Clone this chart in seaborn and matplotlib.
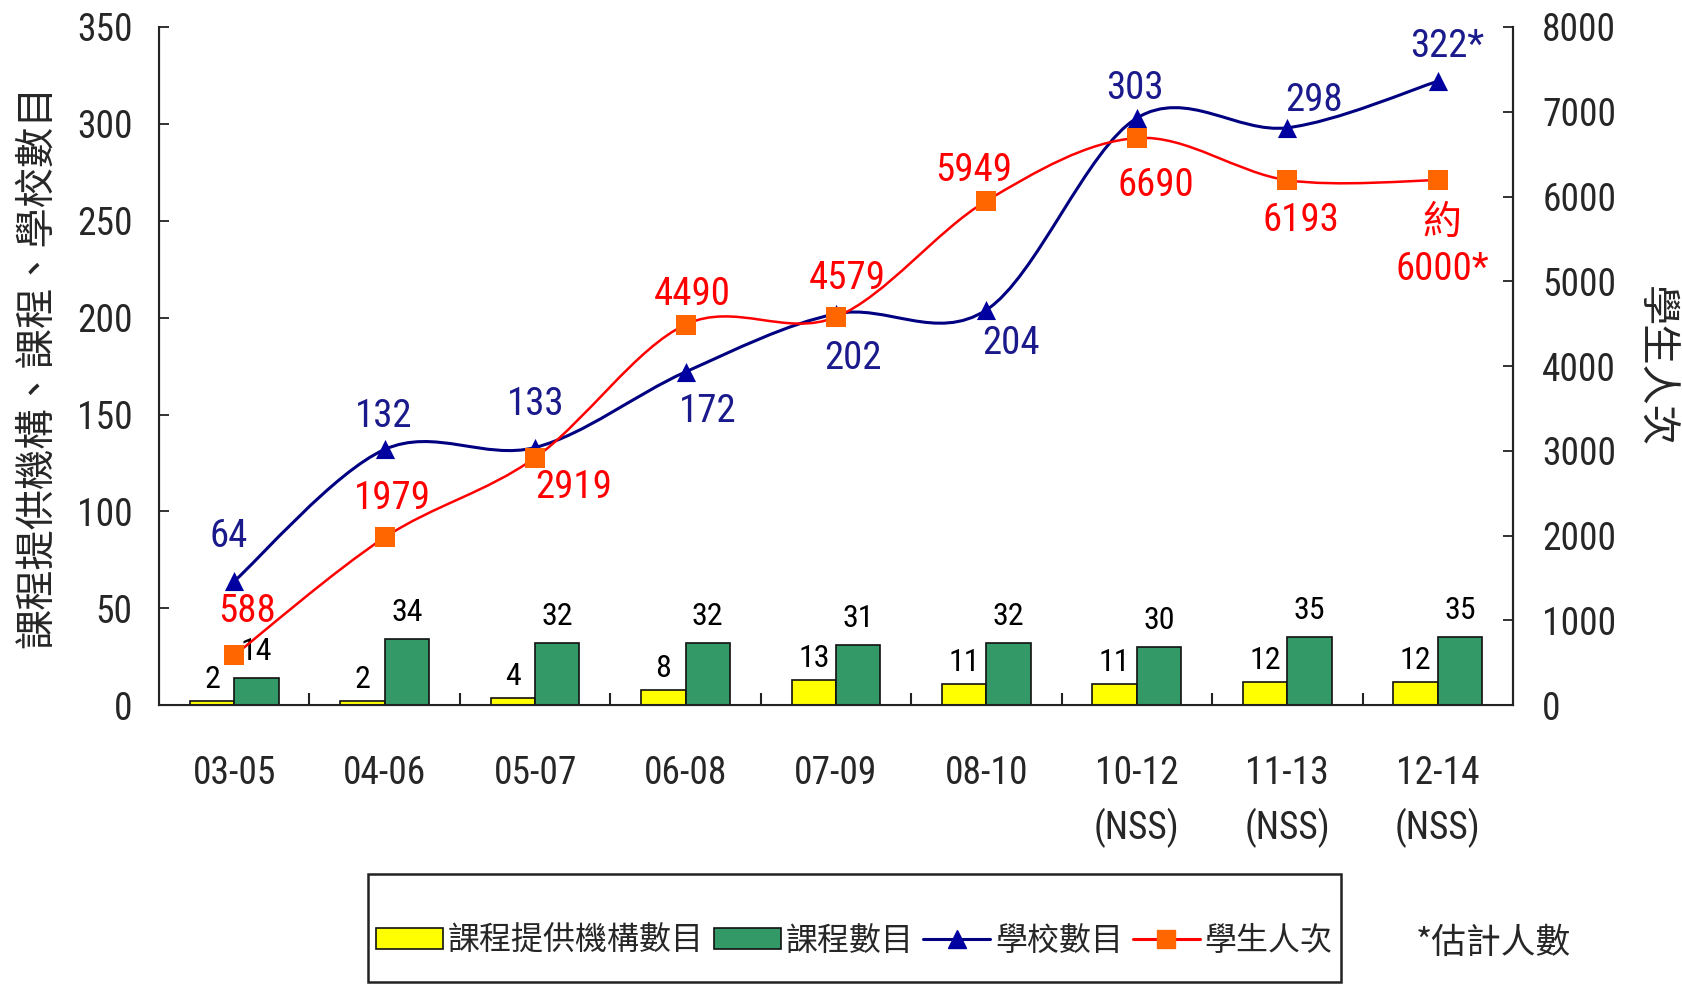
import numpy as np
import pandas as pd
import matplotlib
matplotlib.use("Agg")
import matplotlib.pyplot as plt
import seaborn as sns
from matplotlib import font_manager
from matplotlib.path import Path
from matplotlib.patches import PathPatch, Rectangle, Patch
from matplotlib.lines import Line2D

# ---------------- data ----------------
categories = ["03-05", "04-06", "05-07", "06-08", "07-09", "08-10",
              "10-12\n(NSS)", "11-13\n(NSS)", "12-14\n(NSS)"]
providers = [2, 2, 4, 8, 13, 11, 11, 12, 12]
courses = [14, 34, 32, 32, 31, 32, 30, 35, 35]
schools = [64, 132, 133, 172, 202, 204, 303, 298, 322]
students = [588, 1979, 2919, 4490, 4579, 5949, 6690, 6193, 6193]
school_labels = ["64", "132", "133", "172", "202", "204", "303", "298", "322*"]
student_labels = ["588", "1979", "2919", "4490", "4579", "5949", "6690", "6193", "約\n6000*"]
series_names = ["課程提供機構數目", "課程數目", "學校數目", "學生人次"]
left_ticks = [0, 50, 100, 150, 200, 250, 300, 350]
right_ticks = [0, 1000, 2000, 3000, 4000, 5000, 6000, 7000, 8000]

# label offsets (points) -- styling only
K = 0.772
school_off = [(-5, 42), (-1, 31), (1, 40), (21, -37), (16, -42), (23, -31), (-2, 28), (25, 25), (9, 32)]
student_off = [(12, 41), (7, 36), (36, -28), (6, 28), (11, 36), (-12, 28), (18, -44), (13, -38), (4, -62)]

YELLOW = "#FFFF00"
GREEN = "#339966"
NAVY = "#000080"
BLUE_MK = "#0000A0"
RED = "#FF0000"
ORANGE = "#FF6600"
BLUE_TXT = "#1a1a8c"

sns.set_style("ticks")

# choose a narrow sans font if one is installed
names = {f.name for f in font_manager.fontManager.ttflist}
stretch = "normal"
narrow = None
for cand in ["Liberation Sans Narrow", "Arial Narrow", "Roboto Condensed",
             "Open Sans Condensed", "Noto Sans Condensed"]:
    if cand in names:
        narrow = cand
        break
if narrow is None:
    cond = [f for f in font_manager.fontManager.ttflist
            if f.name == "DejaVu Sans" and str(f.stretch) in ("condensed", "semi-condensed")]
    if cond:
        narrow = "DejaVu Sans"
        stretch = "condensed"
NUM = ([narrow] if narrow else []) + ["Noto Sans CJK TC", "DejaVu Sans"]
CJK = ["Noto Sans CJK TC", "DejaVu Sans"]
plt.rcParams["font.family"] = NUM
plt.rcParams["font.stretch"] = stretch
num_size = 27 if narrow else 26

fig = plt.figure(figsize=(16.82, 9.85), dpi=100)
ax = fig.add_axes([0.0945, 0.284, 0.805, 0.6886])

df = pd.DataFrame({
    "cat": categories * 2,
    "series": [series_names[0]] * len(categories) + [series_names[1]] * len(categories),
    "value": providers + courses,
})
sns.barplot(data=df, x="cat", y="value", hue="series",
            palette=[YELLOW, GREEN], saturation=1, width=0.59, gap=0,
            edgecolor="#111111", linewidth=1.2, ax=ax, legend=False)

pads = [5, 9]
for cont, p in zip(ax.containers, pads):
    ax.bar_label(cont, padding=p, fontsize=num_size - 4, color="black")

ax.set_xlim(-0.5, len(categories) - 0.5)
ax.set_ylim(0, 350)
ax.set_yticks(left_ticks)
ax.set_xticks(range(len(categories)))
ax.set_xticklabels(categories, fontsize=num_size, linespacing=1.5)
ax.set_xticks(np.arange(0.5, len(categories) - 0.5, 1.0), minor=True)
ax.tick_params(axis="x", which="major", length=0, pad=36)
ax.tick_params(axis="x", which="minor", direction="in", length=9, width=1.5, color="#222222")
ax.tick_params(axis="y", direction="in", length=7, width=1.3, pad=19, labelsize=num_size, color="#222222")
ax.set_xlabel("")
ax.set_ylabel("課程提供機構、課程、學校數目", family=CJK, fontsize=29, fontweight="light")
ax.yaxis.set_label_coords(-0.075, 0.5)
for s in ["left", "bottom", "right"]:
    ax.spines[s].set_linewidth(1.5)
    ax.spines[s].set_color("#222222")
ax.spines["top"].set_visible(False)

ax2 = ax.twinx()
ax2.set_ylim(0, 8000)
ax2.set_yticks(right_ticks)
ax2.tick_params(axis="y", direction="in", length=7, width=1.3, pad=21, labelsize=num_size, color="#222222")
ax2.spines["top"].set_visible(False)
ax2.spines["right"].set_linewidth(1.5)
ax2.spines["right"].set_color("#222222")
ax2.set_ylabel("學生人次", family=CJK, fontsize=29, fontweight="light", rotation=270)
ax2.yaxis.set_label_coords(1.12, 0.5)


def smooth_path(xs, ys):
    pts = np.column_stack([xs, ys]).astype(float)
    n = len(pts)
    verts = [pts[0]]
    codes = [Path.MOVETO]
    for i in range(n - 1):
        p0 = pts[i - 1] if i > 0 else pts[i]
        p1 = pts[i]
        p2 = pts[i + 1]
        p3 = pts[i + 2] if i + 2 < n else pts[i + 1]
        c1 = p1 + (p2 - p0) / 6.0
        c2 = p2 - (p3 - p1) / 6.0
        verts += [c1, c2, p2]
        codes += [Path.CURVE4] * 3
    return Path(verts, codes)


xs = np.arange(len(categories))
ax.add_patch(PathPatch(smooth_path(xs, schools), facecolor="none", edgecolor=NAVY, lw=2.2, zorder=4))
sns.scatterplot(x=xs, y=schools, marker="^", s=190, color=BLUE_MK, edgecolor=BLUE_MK,
                linewidth=0, ax=ax, zorder=5, legend=False)
ax2.add_patch(PathPatch(smooth_path(xs, students), facecolor="none", edgecolor=RED, lw=1.8, zorder=4))
sns.scatterplot(x=xs, y=students, marker="s", s=210, color=ORANGE, edgecolor=ORANGE,
                linewidth=0, ax=ax2, zorder=5, legend=False)

for i, (v, lab) in enumerate(zip(schools, school_labels)):
    dx, dy = school_off[i]
    ax.annotate(lab, (i, v), xytext=(dx * K, dy * K), textcoords="offset points",
                ha="center", va="center", fontsize=num_size + 1, color=BLUE_TXT, zorder=6)
for i, (v, lab) in enumerate(zip(students, student_labels)):
    dx, dy = student_off[i]
    ax2.annotate(lab, (i, v), xytext=(dx * K, dy * K), textcoords="offset points",
                 ha="center", va="center", fontsize=num_size + 1, color=RED, zorder=6,
                 linespacing=1.3, family=NUM)

handles = [
    Patch(facecolor=YELLOW, edgecolor="#111111", linewidth=1.2),
    Patch(facecolor=GREEN, edgecolor="#111111", linewidth=1.2),
    Line2D([], [], color=NAVY, lw=2.2, marker="^", ms=13, markerfacecolor=BLUE_MK, markeredgecolor=BLUE_MK),
    Line2D([], [], color=RED, lw=2.2, marker="s", ms=13, markerfacecolor=ORANGE, markeredgecolor=ORANGE),
]
fig.legend(handles, series_names, loc="center", bbox_to_anchor=(0.508, 0.045),
           bbox_transform=fig.transFigure, ncol=4, frameon=False,
           prop={"family": CJK, "size": 23}, handlelength=2.1, handleheight=0.6,
           handletextpad=0.15, columnspacing=0.3, borderpad=0.2)
fig.add_artist(Rectangle((368 / 1682, 1 - 982 / 985), (1341 - 368) / 1682, (982 - 874) / 985,
                         transform=fig.transFigure, fill=False, edgecolor="#222222", lw=1.8))
fig.text(0.888, 0.042, "*估計人數", family=CJK, fontsize=25, ha="center", va="center", fontweight="light")

fig.savefig("out.png", dpi=100)
